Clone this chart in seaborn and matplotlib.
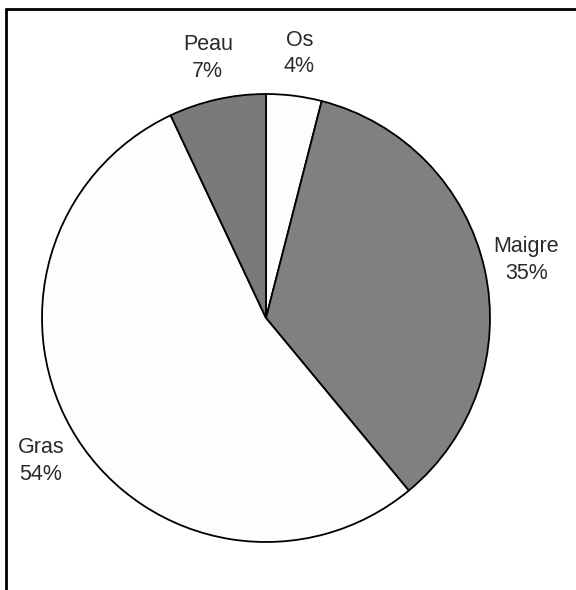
import matplotlib
matplotlib.use("Agg")
import matplotlib.pyplot as plt
from matplotlib.lines import Line2D
import seaborn as sns

categories = ["Os", "Maigre", "Gras", "Peau"]
values = [4, 35, 54, 7]
fill_colors = ["#fdfdfd", "#808080", "#fdfdfd", "#7a7a7a"]

sns.set_theme(style="white")
plt.rcParams["font.family"] = ["Liberation Sans", "DejaVu Sans"]

W, H = 576, 590
fig = plt.figure(figsize=(W / 100, H / 100), dpi=100)
fig.patch.set_facecolor("white")

cx, cy, r = 266, 318, 224
ax = fig.add_axes([(cx - r) / W, (H - cy - r) / H, 2 * r / W, 2 * r / H])

labels = [f"{c}\n{v}%" for c, v in zip(categories, values)]
wedges, texts = ax.pie(
    values,
    labels=labels,
    colors=fill_colors,
    startangle=90,
    counterclock=False,
    labeldistance=1.19,
    wedgeprops=dict(edgecolor="black", linewidth=1.3),
    textprops=dict(fontsize=15.5, color="#2a2a2a"),
)
for t in texts:
    t.set_ha("center")
    t.set_va("center")
    t.set_linespacing(1.35)

ax.set_xlim(-1, 1)
ax.set_ylim(-1, 1)
ax.axis("off")

# outer frame (top and left edges visible)
fig.add_artist(Line2D([6 / W, 1.0], [1 - 8.7 / H, 1 - 8.7 / H], color="black", lw=2.0, transform=fig.transFigure))
fig.add_artist(Line2D([6 / W, 6 / W], [0.0, 1 - 8.7 / H], color="black", lw=2.0, transform=fig.transFigure))

fig.savefig("out.png", dpi=100)
